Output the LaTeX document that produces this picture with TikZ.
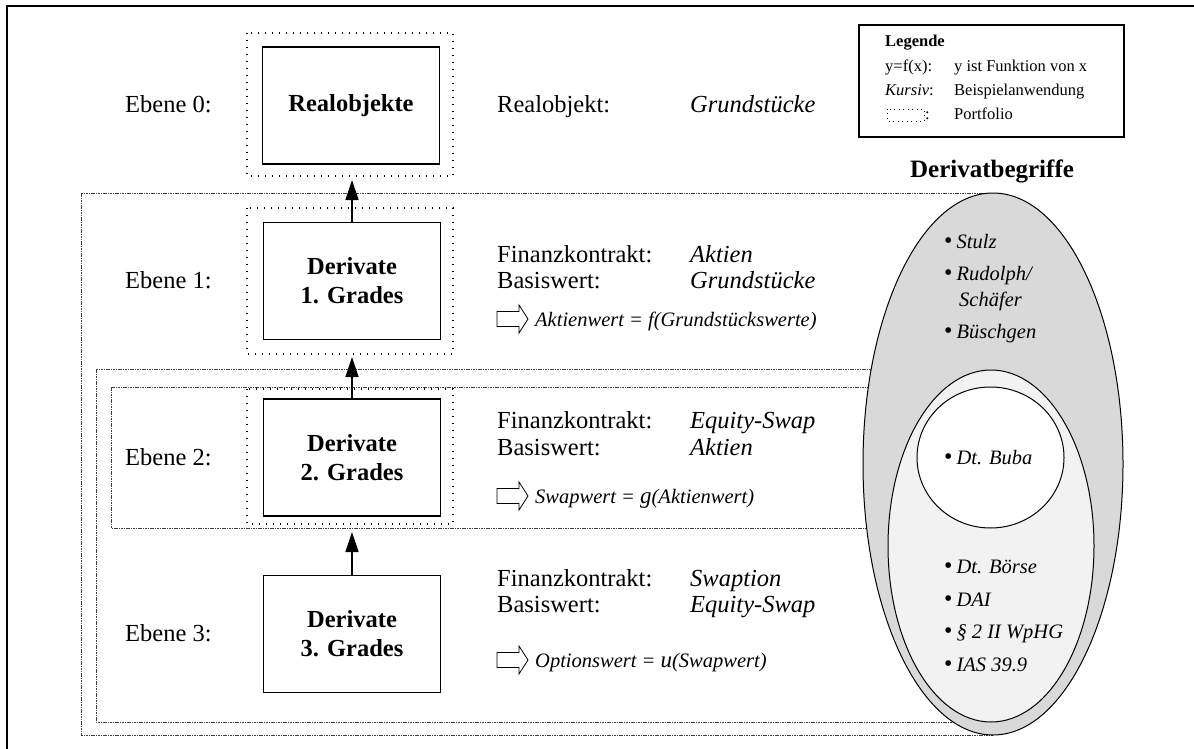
\documentclass[tikz,border=0pt]{standalone}
\usepackage{fontspec}
\setmainfont{Liberation Serif}
\usetikzlibrary{arrows.meta}
\newcommand\itembullet{{\upshape\fontsize{24}{26}\selectfont\raisebox{-0.8pt}{\textbullet}}\hspace{4pt}}
\begin{document}
\begin{tikzpicture}[x=1pt,y=-1pt,
  frame/.style={line width=1.2pt},
  level/.style={draw=black!75, line width=0.8pt, dash pattern=on 1.6pt off 0.8pt},
  portfolio/.style={draw=black, line width=1.4pt, dash pattern=on 1.4pt off 5.6pt},
  gradebox/.style={draw, line width=1.3pt, fill=white, minimum width=177, minimum height=117,
    align=center, font=\fontsize{24.5}{29}\selectfont\bfseries, inner sep=0pt},
  uparrow/.style={line width=1.3pt, -{Triangle[length=20pt,width=13pt]}},
  txt/.style={inner sep=0pt, anchor=base west, font=\fontsize{24.5}{29}\selectfont},
  valtxt/.style={txt, font=\fontsize{24.5}{29}\selectfont\itshape},
  formula/.style={inner sep=0pt, anchor=base west, font=\fontsize{20.5}{24}\selectfont\itshape},
  item/.style={inner sep=0pt, anchor=base west, font=\fontsize{20.5}{26}\selectfont\itshape},
  legtxt/.style={inner sep=0pt, anchor=base west, font=\fontsize{16.5}{20}\selectfont},
  hollowarrow/.pic={\draw[line width=0.8pt] (0,-7.5) -- (22,-7.5) -- (22,-14) -- (31,0)
      -- (22,14) -- (22,7.5) -- (0,7.5) -- cycle;}
]
\useasboundingbox (0,0) rectangle (1194,749);

% outer frame
\draw[frame] (7,749) -- (7,6) -- (1194,6);

% nested level frames (right edges lie under the ellipses)
\draw[level] (81,193) rectangle (992,735);
\draw[level] (96,369) rectangle (992,722);
\draw[level] (111,387) rectangle (992,528);

% portfolio frames
\draw[portfolio] (247,33) rectangle (453,176);
\draw[portfolio] (247,208) rectangle (453,354);
\draw[portfolio] (247,389) rectangle (453,524);

% grade boxes
\node[gradebox] (real) at (351,105.5) {Realobjekte};
\node[gradebox] (d1) at (352,281) {Derivate\\1. Grades};
\node[gradebox] (d2) at (352,457.5) {Derivate\\2. Grades};
\node[gradebox] (d3) at (352,634) {Derivate\\3. Grades};

% arrow tips just below the portfolio frames
\coordinate (t0) at (352,180);
\coordinate (t1) at (352,357);
\coordinate (t2) at (352,532);
\draw[uparrow] (d1.north) -- (t0);
\draw[uparrow] (d2.north) -- (t1);
\draw[uparrow] (d3.north) -- (t2);

% level labels
\node[txt] (e0) at (125,113) {Ebene 0:};
\node[txt] (e1) at (125,288.5) {Ebene 1:};
\node[txt] (e2) at (125,465) {Ebene 2:};
\node[txt] (e3) at (125,641) {Ebene 3:};

% level 0
\node[txt] (r0a) at (497,113) {Realobjekt:};
\node[valtxt] (r0b) at (690,113) {Grundstücke};

% level 1
\node[txt] (r1a) at (497,262) {Finanzkontrakt:};
\node[valtxt] (r1b) at (690,262) {Aktien};
\node[txt] (r1c) at (497,288) {Basiswert:};
\node[valtxt] (r1d) at (690,288) {Grundstücke};
\pic at (497,319) {hollowarrow};
\node[formula] (f1) at (535,326) {Aktienwert = f(Grundstückswerte)};

% level 2
\node[txt] (r2a) at (497,428) {Finanzkontrakt:};
\node[valtxt] (r2b) at (690,428) {Equity-Swap};
\node[txt] (r2c) at (497,455) {Basiswert:};
\node[valtxt] (r2d) at (690,455) {Aktien};
\pic at (497,496) {hollowarrow};
\node[formula] (f2) at (535,503) {Swapwert = {\fontsize{23}{24}\selectfont g}(Aktienwert)};

% level 3
\node[txt] (r3a) at (497,586) {Finanzkontrakt:};
\node[valtxt] (r3b) at (690,586) {Swaption};
\node[txt] (r3c) at (497,612) {Basiswert:};
\node[valtxt] (r3d) at (690,612) {Equity-Swap};
\pic at (497,660) {hollowarrow};
\node[formula] (f3) at (535,667) {Optionswert = {\fontsize{23}{24}\selectfont u}(Swapwert)};

% derivative notions
\node[inner sep=0pt, anchor=base, font=\fontsize{25}{29}\selectfont\bfseries] (title) at (992,178) {Derivatbegriffe};
\fill[fill=black!15] (993,464) ellipse [x radius=130, y radius=271];
\draw[line width=1pt] (993,464) ellipse [x radius=130, y radius=271];
\filldraw[fill=black!5, line width=1pt] (991,546) ellipse [x radius=103, y radius=176];
\filldraw[fill=white, line width=1pt] (990.5,457.5) ellipse [x radius=73.5, y radius=70.5];

\node[item] (b1) at (944,248) {\itembullet Stulz};
\node[item] (b2) at (944,280) {\itembullet Rudolph/};
\node[item] (b2b) at (959,306) {Schäfer};
\node[item] (b3) at (944,338) {\itembullet Büschgen};
\node[item] (b4) at (944,464) {\itembullet Dt. Buba};
\node[item] (b5) at (944,573) {\itembullet Dt. Börse};
\node[item] (b6) at (944,606) {\itembullet DAI};
\node[item] (b7) at (944,638) {\itembullet § 2 II WpHG};
\node[item] (b8) at (944,671) {\itembullet IAS 39.9};

% legend
\draw[line width=1.2pt] (859,25) rectangle (1124,137);
\node[legtxt, font=\fontsize{16.5}{20}\selectfont\bfseries] (lg) at (885,47) {Legende};
\node[legtxt] (l1) at (885,72) {y=f(x):};
\node[legtxt] (l1b) at (954,72) {y ist Funktion von x};
\node[legtxt] (l2) at (885,96) {\textit{Kursiv}:};
\node[legtxt] (l2b) at (954,96) {Beispielanwendung};
\draw[line width=0.9pt, dash pattern=on 0.9pt off 3.6pt] (887,109) rectangle (924,121);
\node[legtxt] (l3) at (925,120) {:};
\node[legtxt] (l3b) at (954,120) {Portfolio};
\end{tikzpicture}
\end{document}
